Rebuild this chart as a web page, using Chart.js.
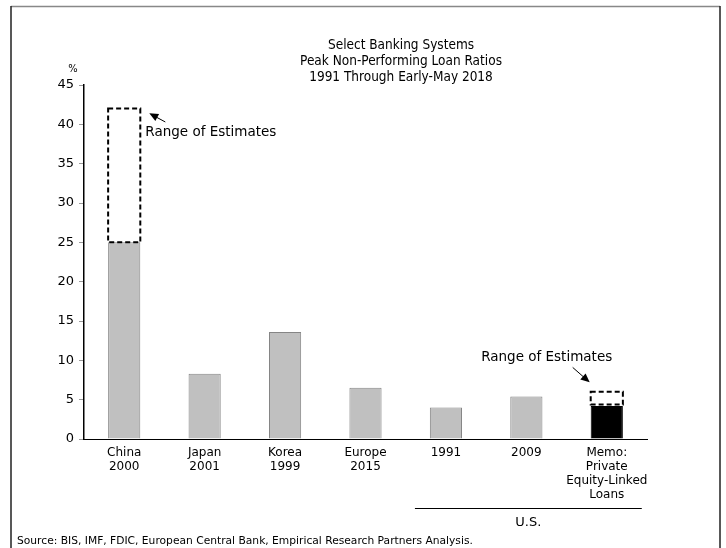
<!DOCTYPE html>
<html>
<head>
<meta charset="utf-8">
<script src="https://cdn.jsdelivr.net/npm/chart.js@4/dist/chart.umd.min.js"></script>
<style>
  html, body { margin: 0; padding: 0; background: #fff; }
  #wrap { width: 726px; height: 548px; }
</style>
</head>
<body>
<div id="wrap"><canvas id="npl" width="726" height="548"></canvas></div>
<script>
// Peak non-performing loan ratios, percent
const categories = [
  ['China', '2000'],
  ['Japan', '2001'],
  ['Korea', '1999'],
  ['Europe', '2015'],
  ['1991'],
  ['2009'],
  ['Memo:', 'Private', 'Equity-Linked', 'Loans']
];
const peakRatio = [25, 8.3, 13.6, 6.5, 4.0, 5.4, 4.2];
// Ranges of estimates (low, high) where published figures disagree
const rangeLow  = [25, null, null, null, null, null, 4.4];
const rangeHigh = [42, null, null, null, null, null, 6.0];
const yTicks = [0, 5, 10, 15, 20, 25, 30, 35, 40, 45];

const titleLines = [
  'Select Banking Systems',
  'Peak Non-Performing Loan Ratios',
  '1991 Through Early-May 2018'
];
const sourceNote = 'Source: BIS, IMF, FDIC, European Central Bank, Empirical Research Partners Analysis.';
const rangeLabel = 'Range of Estimates';
const groupLabel = 'U.S.';

const barFill   = categories.map((c, i) => i === 6 ? '#000000' : '#c0c0c0');
const barBorder = categories.map((c, i) => i === 6 ? '#000000' : '#858585');

const BODY_FONT = '"DejaVu Sans", Verdana, sans-serif';
const TITLE_FONT = '"Liberation Sans Narrow", "DejaVu Sans Condensed", sans-serif';

function arrow(ctx, x0, y0, x1, y1) {
  const ang = Math.atan2(y1 - y0, x1 - x0);
  const head = 9, half = 4;
  ctx.save();
  ctx.strokeStyle = '#000';
  ctx.fillStyle = '#000';
  ctx.lineWidth = 1;
  ctx.beginPath();
  ctx.moveTo(x0, y0);
  ctx.lineTo(x1 - Math.cos(ang) * head * 0.8, y1 - Math.sin(ang) * head * 0.8);
  ctx.stroke();
  ctx.beginPath();
  ctx.moveTo(x1, y1);
  ctx.lineTo(x1 - Math.cos(ang) * head + Math.sin(ang) * half,
             y1 - Math.sin(ang) * head - Math.cos(ang) * half);
  ctx.lineTo(x1 - Math.cos(ang) * head - Math.sin(ang) * half,
             y1 - Math.sin(ang) * head + Math.cos(ang) * half);
  ctx.closePath();
  ctx.fill();
  ctx.restore();
}

const decorations = {
  id: 'decorations',
  beforeDraw(chart) {
    const ctx = chart.ctx;
    ctx.save();
    ctx.fillStyle = '#fff';
    ctx.fillRect(0, 0, chart.width, chart.height);
    // frame
    ctx.strokeStyle = '#888';
    ctx.lineWidth = 1.5;
    ctx.beginPath();
    ctx.moveTo(11, 6.5); ctx.lineTo(720, 6.5);
    ctx.stroke();
    ctx.strokeStyle = '#222';
    ctx.lineWidth = 1.5;
    ctx.beginPath();
    ctx.moveTo(11, 6); ctx.lineTo(11, 548);
    ctx.moveTo(720, 6); ctx.lineTo(720, 548);
    ctx.stroke();
    ctx.restore();
  },
  afterDraw(chart) {
    const ctx = chart.ctx;
    const y = chart.scales.y;
    const meta = chart.getDatasetMeta(0);
    ctx.save();

    // title
    ctx.fillStyle = '#000';
    ctx.textAlign = 'center';
    ctx.textBaseline = 'middle';
    ctx.font = '13.5px ' + TITLE_FONT;
    titleLines.forEach((t, i) => ctx.fillText(t, 401, 45.5 + i * 16));

    // unit label
    ctx.font = '11px ' + TITLE_FONT;
    ctx.fillText('%', 73, 69);

    // dashed range boxes
    ctx.setLineDash([5, 3]);
    ctx.lineWidth = 2;
    ctx.strokeStyle = '#000';
    rangeLow.forEach((lo, i) => {
      if (lo === null) return;
      const bar = meta.data[i];
      const half = bar.width / 2;
      const l = bar.x - half, r = bar.x + half;
      const top = y.getPixelForValue(rangeHigh[i]);
      const bot = y.getPixelForValue(lo);
      ctx.strokeRect(l, top, r - l, bot - top);
    });
    ctx.setLineDash([]);

    // annotation: China range
    const cBar = meta.data[0];
    const cRight = cBar.x + cBar.width / 2;
    ctx.font = '13.5px ' + BODY_FONT;
    ctx.textAlign = 'left';
    ctx.fillText(rangeLabel, cRight + 5, y.getPixelForValue(38.9));
    arrow(ctx, cRight + 25, y.getPixelForValue(40.3), cRight + 9, y.getPixelForValue(41.4));

    // annotation: private equity-linked loans range
    const mBar = meta.data[6];
    const mLeft = mBar.x - mBar.width / 2;
    ctx.textAlign = 'center';
    ctx.fillText(rangeLabel, mLeft - 44, y.getPixelForValue(10.4));
    arrow(ctx, mLeft - 18, y.getPixelForValue(9.1), mLeft - 1, y.getPixelForValue(7.2));

    // U.S. grouping bracket
    const gl = meta.data[4].x - 31, gr = meta.data[6].x + 35;
    ctx.strokeStyle = '#000';
    ctx.lineWidth = 1;
    ctx.beginPath();
    ctx.moveTo(gl, 508.5); ctx.lineTo(gr, 508.5);
    ctx.stroke();
    ctx.font = '13px ' + BODY_FONT;
    ctx.fillText(groupLabel, (gl + gr) / 2, 523);

    // source
    ctx.textAlign = 'left';
    ctx.font = '10.7px ' + BODY_FONT;
    ctx.fillText(sourceNote, 17, 541);
    ctx.restore();
  }
};

new Chart(document.getElementById('npl'), {
  type: 'bar',
  data: {
    labels: categories,
    datasets: [{
      data: peakRatio,
      backgroundColor: barFill,
      borderColor: barBorder,
      borderWidth: 1,
      barPercentage: 0.4,
      categoryPercentage: 1.0
    }]
  },
  options: {
    responsive: false,
    animation: false,
    layout: { padding: { left: 40, right: 79, top: 85, bottom: 39 } },
    plugins: {
      legend: { display: false },
      title: { display: false },
      tooltip: { enabled: false }
    },
    scales: {
      x: {
        grid: { display: false },
        border: { display: true, color: '#000', width: 1 },
        afterFit(scale) { scale.height = 70; },
        ticks: {
          color: '#000',
          padding: -1,
          maxRotation: 0,
          autoSkip: false,
          font: { family: BODY_FONT, size: 12, lineHeight: 1.17 }
        }
      },
      y: {
        min: 0,
        max: 45,
        afterFit(scale) { scale.width = 44; },
        afterBuildTicks(scale) { scale.ticks = yTicks.map(v => ({ value: v })); },
        grid: { drawOnChartArea: false, drawTicks: true, tickLength: 5, color: '#999' },
        border: { display: true, color: '#000', width: 1.5 },
        ticks: {
          color: '#000',
          padding: 5,
          font: { family: BODY_FONT, size: 13 }
        }
      }
    }
  },
  plugins: [decorations]
});
</script>
</body>
</html>
